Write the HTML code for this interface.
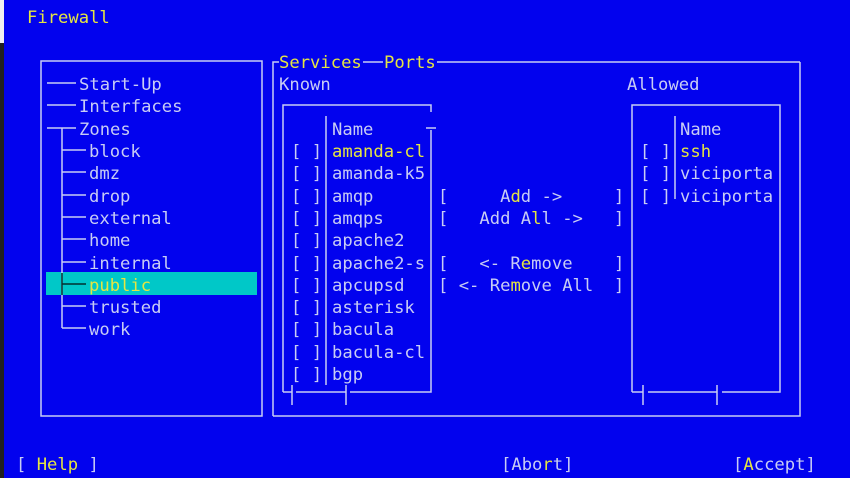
<!DOCTYPE html>
<html><head><meta charset="utf-8"><style>
html,body{margin:0;padding:0}
body{width:850px;height:478px;background:#0202ee;position:relative;overflow:hidden;font-family:"DejaVu Sans Mono","Liberation Mono",monospace;font-size:17.2px;color:#c8ccf4}
.t{position:absolute;white-space:pre;line-height:22px;margin-top:2px}
.y{color:#e6e640}
svg{position:absolute;left:0;top:0}
</style></head><body>
<div style="position:absolute;left:0;top:0;width:4px;height:43px;background:#f0f0f0"></div>
<div style="position:absolute;left:0;top:43px;width:4px;height:435px;background:#202020"></div>
<div style="position:absolute;left:46px;top:272px;width:211px;height:23px;background:#00c8c8"></div>
<svg width="850" height="478" stroke="#c8ccf4" stroke-width="1.5" fill="none">
<rect x="41" y="61" width="221" height="355"/>
<path d="M273 416V62H279 M800 62V416H273"/>
<path d="M363 62H383 M437 62H800"/>
<path d="M283 392V105H431V112 M431 130V392H350 M283 392H292 M292 385V405 M296 392H346 M346 385V405 M326 116V385"/>
<path d="M426 128H436"/>
<path d="M632 392V105H780V392H722 M632 392H643 M643 385V405 M648 392H717 M717 385V405 M675 116V199"/>
<path d="M47 83H76 M47 105H76 M47 128H76 M62 128V328 M62 150H86 M62 172H86 M62 195H86 M62 217H86 M62 239H86 M62 262H86 M62 306H86 M62 328H86"/>
<path d="M62 284H86" stroke="#003030"/>
<path d="M62 273V295" stroke="#003030"/>
</svg>
<div class="t y" style="left:27px;top:5px">Firewall</div>
<div class="t" style="left:79px;top:72px">Start-Up</div>
<div class="t" style="left:79px;top:94px">Interfaces</div>
<div class="t" style="left:79px;top:117px">Zones</div>
<div class="t" style="left:89px;top:139px">block</div>
<div class="t" style="left:89px;top:161px">dmz</div>
<div class="t" style="left:89px;top:184px">drop</div>
<div class="t" style="left:89px;top:206px">external</div>
<div class="t" style="left:89px;top:228px">home</div>
<div class="t" style="left:89px;top:251px">internal</div>
<div class="t y" style="left:89px;top:273px">public</div>
<div class="t" style="left:89px;top:295px">trusted</div>
<div class="t" style="left:89px;top:317px">work</div>
<div class="t y" style="left:279px;top:50px">Services</div>
<div class="t y" style="left:384px;top:50px">Ports</div>
<div class="t" style="left:279px;top:72px">Known</div>
<div class="t" style="left:627px;top:72px">Allowed</div>
<div class="t" style="left:332px;top:117px">Name</div>
<div class="t" style="left:680px;top:117px">Name</div>
<div class="t" style="left:291px;top:139px">[ ]</div><div class="t y" style="left:332px;top:139px">amanda-cl</div>
<div class="t" style="left:291px;top:161px">[ ]</div><div class="t" style="left:332px;top:161px">amanda-k5</div>
<div class="t" style="left:291px;top:184px">[ ]</div><div class="t" style="left:332px;top:184px">amqp</div>
<div class="t" style="left:291px;top:206px">[ ]</div><div class="t" style="left:332px;top:206px">amqps</div>
<div class="t" style="left:291px;top:228px">[ ]</div><div class="t" style="left:332px;top:228px">apache2</div>
<div class="t" style="left:291px;top:251px">[ ]</div><div class="t" style="left:332px;top:251px">apache2-s</div>
<div class="t" style="left:291px;top:273px">[ ]</div><div class="t" style="left:332px;top:273px">apcupsd</div>
<div class="t" style="left:291px;top:295px">[ ]</div><div class="t" style="left:332px;top:295px">asterisk</div>
<div class="t" style="left:291px;top:317px">[ ]</div><div class="t" style="left:332px;top:317px">bacula</div>
<div class="t" style="left:291px;top:340px">[ ]</div><div class="t" style="left:332px;top:340px">bacula-cl</div>
<div class="t" style="left:291px;top:362px">[ ]</div><div class="t" style="left:332px;top:362px">bgp</div>
<div class="t" style="left:640px;top:139px">[ ]</div><div class="t y" style="left:680px;top:139px">ssh</div>
<div class="t" style="left:640px;top:161px">[ ]</div><div class="t" style="left:680px;top:161px">viciporta</div>
<div class="t" style="left:640px;top:184px">[ ]</div><div class="t" style="left:680px;top:184px">viciporta</div>
<div class="t" style="left:438px;top:184px">[     A<span class="y">d</span>d -&gt;     ]</div>
<div class="t" style="left:438px;top:206px">[   Add A<span class="y">l</span>l -&gt;   ]</div>
<div class="t" style="left:438px;top:251px">[   &lt;- R<span class="y">e</span>move    ]</div>
<div class="t" style="left:438px;top:273px">[ &lt;- Re<span class="y">m</span>ove All  ]</div>
<div class="t" style="left:16px;top:452px">[ <span class="y">Help</span> ]</div>
<div class="t" style="left:501px;top:452px">[Abo<span class="y">r</span>t]</div>
<div class="t" style="left:733px;top:452px">[<span class="y">A</span>ccept]</div>
</body></html>
